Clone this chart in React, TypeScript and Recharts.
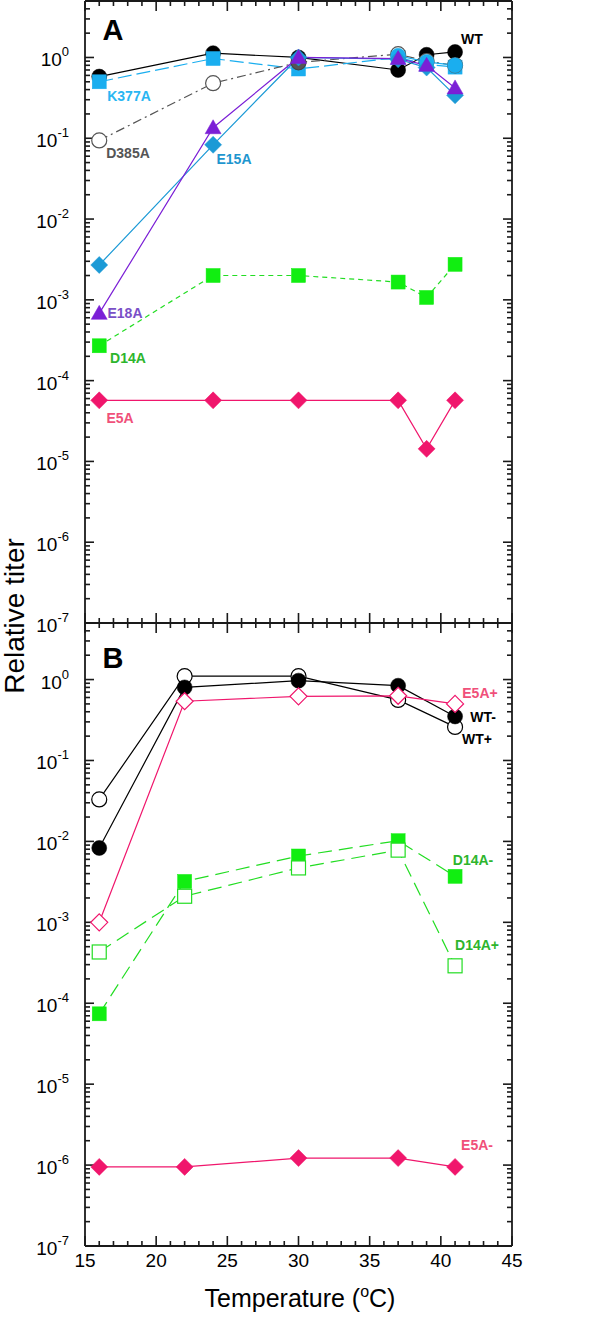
import React from 'react';
import { LineChart, Line, XAxis, YAxis, ReferenceLine } from 'recharts';

const tempsA = [16, 24, 30, 37, 39, 41];
const wtA = [0.58, 1.13, 1.0, 0.7, 1.08, 1.17];
const k377aA = [0.5, 0.97, 0.72, 1.0, 0.82, 0.76];
const k377aCircA = [null, null, null, 1.05, 0.88, 0.8];
const d385aA = [0.094, 0.48, 0.87, 1.1, 0.9, 0.8];
const e15aA = [0.0027, 0.083, 1.0, 0.95, 0.75, 0.34];
const e18aA = [0.00068, 0.135, 1.0, 0.97, 0.8, 0.42];
const d14aA = [0.00027, 0.002, 0.002, 0.00166, 0.00107, 0.00275];
const e5aA = [5.7e-5, 5.7e-5, 5.7e-5, 5.7e-5, 1.43e-5, 5.7e-5];

const tempsB = [16, 22, 30, 37, 41];
const wtPlusB = [0.033, 1.1, 1.1, 0.56, 0.26];
const wtMinusB = [0.0083, 0.8, 0.97, 0.84, 0.35];
const e5aPlusB = [0.001, 0.54, 0.62, 0.63, 0.5];
const d14aMinusB = [7.4e-5, 0.0032, 0.0066, 0.0102, 0.0037];
const d14aPlusB = [4.3e-4, 0.0021, 0.0047, 0.0078, 2.9e-4];
const e5aMinusB = [9.5e-7, 9.5e-7, 1.22e-6, 1.22e-6, 9.5e-7];

const X_MIN = 15;
const X_MAX = 45;
const Y_MIN = 1e-7;
const Y_MAX = 5;

const xTicks = Array.from({ length: 31 }, (_, i) => 15 + i);
const xLabelTicks = [15, 20, 25, 30, 35, 40, 45];
const yDecades = [1e-7, 1e-6, 1e-5, 1e-4, 1e-3, 1e-2, 1e-1, 1];
const yTicks: number[] = [];
yDecades.forEach((d) => {
  for (let m = 1; m <= 9; m++) {
    if (d === 1 && m > 5) break;
    yTicks.push(m * d);
  }
});

const FONT = '"Liberation Sans", Arial, sans-serif';
const FRAME = '#1a1a1a';

// plot box size, only used to turn tick lengths (px) into data units
const PLOT_W = 427;
const PLOT_H = 622;
const PX_PER_X = PLOT_W / (X_MAX - X_MIN);
const PX_PER_DECADE = PLOT_H / Math.log10(Y_MAX / Y_MIN);

type Shape = 'circle' | 'square' | 'diamond' | 'triangle';

interface SeriesDef {
  key: string;
  values: (number | null)[];
  color: string;
  markerColor?: string;
  shape: Shape;
  filled: boolean;
  dash?: string;
}

const seriesA: SeriesDef[] = [
  { key: 'wt', values: wtA, color: '#000', shape: 'circle', filled: true },
  { key: 'k377a', values: k377aA, color: '#1AAEEF', shape: 'square', filled: true, dash: '14 5' },
  { key: 'd385a', values: d385aA, color: '#555', shape: 'circle', filled: false, dash: '9 4 2 4' },
  { key: 'k377aCirc', values: k377aCircA, color: '#1AAEEF', shape: 'circle', filled: true },
  { key: 'e15a', values: e15aA, color: '#1C9AD6', shape: 'diamond', filled: true },
  { key: 'e18a', values: e18aA, color: '#7B1FD6', shape: 'triangle', filled: true },
  { key: 'd14a', values: d14aA, color: '#22DD22', markerColor: '#11EE11', shape: 'square', filled: true, dash: '5 4' },
  { key: 'e5a', values: e5aA, color: '#F0166C', shape: 'diamond', filled: true },
];

const seriesB: SeriesDef[] = [
  { key: 'wtPlus', values: wtPlusB, color: '#000', shape: 'circle', filled: false },
  { key: 'wtMinus', values: wtMinusB, color: '#000', shape: 'circle', filled: true },
  { key: 'e5aPlus', values: e5aPlusB, color: '#F0166C', shape: 'diamond', filled: false },
  { key: 'd14aMinus', values: d14aMinusB, color: '#22DD22', markerColor: '#11EE11', shape: 'square', filled: true, dash: '14 7' },
  { key: 'd14aPlus', values: d14aPlusB, color: '#22DD22', shape: 'square', filled: false, dash: '14 7' },
  { key: 'e5aMinus', values: e5aMinusB, color: '#F0166C', shape: 'diamond', filled: true },
];

function buildRows(temps: number[], series: SeriesDef[]) {
  return temps.map((t, i) => {
    const row: Record<string, number | null> = { t };
    series.forEach((s) => {
      row[s.key] = s.values[i];
    });
    return row;
  });
}

function Marker({ cx, cy, shape, color, filled, grey }: any) {
  if (cx == null || cy == null || isNaN(cy)) return <g />;
  const fill = grey ? '#555' : filled ? color : '#fff';
  const stroke = grey ? '#444' : color;
  const sw = filled ? 0.5 : 1.2;
  if (shape === 'circle') return <circle cx={cx} cy={cy} r={7.5} fill={fill} stroke={stroke} strokeWidth={sw} />;
  if (shape === 'square') return <rect x={cx - 7} y={cy - 7} width={14} height={14} fill={fill} stroke={stroke} strokeWidth={sw} />;
  if (shape === 'diamond') {
    const d = 8.5;
    return <polygon points={`${cx},${cy - d} ${cx + d},${cy} ${cx},${cy + d} ${cx - d},${cy}`} fill={fill} stroke={stroke} strokeWidth={sw} />;
  }
  return <polygon points={`${cx},${cy - 8} ${cx + 8},${cy + 6} ${cx - 8},${cy + 6}`} fill={fill} stroke={stroke} strokeWidth={sw} />;
}

function isMajor(v: number) {
  const l = Math.log10(v);
  return Math.abs(l - Math.round(l)) < 1e-6;
}

const YLabel = (props: any) => {
  const { x, y, payload } = props;
  return (
    <text x={x - 16} y={y + 9} textAnchor="end" fontFamily={FONT} fontSize={19} fill="#000" stroke="none">
      10
      <tspan dy={-10} fontSize={13}>{String(Math.round(Math.log10(payload.value)))}</tspan>
    </text>
  );
};

const XLabel = (props: any) => {
  const { x, y, payload } = props;
  return (
    <text x={x} y={y + 21} textAnchor="middle" fontFamily={FONT} fontSize={19} fill="#000" stroke="none">
      {payload.value}
    </text>
  );
};

// inward tick marks on all four sides, placed through the chart scales
function tickSegments() {
  const out: { key: string; seg: { x: number; y: number }[] }[] = [];
  yTicks.forEach((v) => {
    const len = (isMajor(v) ? 9 : 5) / PX_PER_X;
    out.push({ key: `yl${v}`, seg: [{ x: X_MIN, y: v }, { x: X_MIN + len, y: v }] });
    out.push({ key: `yr${v}`, seg: [{ x: X_MAX - len, y: v }, { x: X_MAX, y: v }] });
  });
  xTicks.forEach((v) => {
    const f = Math.pow(10, (v % 5 === 0 ? 10 : 5) / PX_PER_DECADE);
    out.push({ key: `xb${v}`, seg: [{ x: v, y: Y_MIN }, { x: v, y: Y_MIN * f }] });
    out.push({ key: `xt${v}`, seg: [{ x: v, y: Y_MAX / f }, { x: v, y: Y_MAX }] });
  });
  return out;
}
const TICKS = tickSegments();

function Panel({ temps, series, height, bottomAxis, bottomMargin, labels }: any) {
  const data = buildRows(temps, series);
  return (
    <LineChart width={600} height={height} data={data} margin={{ top: 1, right: 88, bottom: bottomMargin, left: 0 }}>
      <XAxis
        xAxisId="b"
        dataKey="t"
        type="number"
        domain={[X_MIN, X_MAX]}
        ticks={xLabelTicks}
        interval={0}
        height={bottomAxis}
        tickSize={0}
        tickMargin={0}
        tickLine={false}
        axisLine={false}
        tick={labels ? XLabel : false}
      />
      <YAxis
        yAxisId="l"
        type="number"
        scale="log"
        domain={[Y_MIN, Y_MAX]}
        allowDataOverflow
        ticks={yDecades}
        interval={0}
        width={85}
        tickSize={0}
        tickMargin={0}
        tickLine={false}
        axisLine={false}
        tick={YLabel}
      />
      {TICKS.map((t) => (
        <ReferenceLine key={t.key} xAxisId="b" yAxisId="l" segment={t.seg} stroke={FRAME} strokeWidth={1.6} ifOverflow="visible" />
      ))}
      <ReferenceLine xAxisId="b" yAxisId="l" x={X_MIN} stroke={FRAME} strokeWidth={1.8} ifOverflow="visible" />
      <ReferenceLine xAxisId="b" yAxisId="l" x={X_MAX} stroke={FRAME} strokeWidth={1.8} ifOverflow="visible" />
      <ReferenceLine xAxisId="b" yAxisId="l" y={Y_MIN} stroke={FRAME} strokeWidth={1.8} ifOverflow="visible" />
      <ReferenceLine xAxisId="b" yAxisId="l" y={Y_MAX} stroke={FRAME} strokeWidth={1.8} ifOverflow="visible" />
      {series.map((s: SeriesDef) => (
        <Line
          key={s.key}
          xAxisId="b"
          yAxisId="l"
          dataKey={s.key}
          type="linear"
          stroke={s.color}
          strokeWidth={1.2}
          strokeDasharray={s.dash}
          isAnimationActive={false}
          connectNulls={false}
          dot={(p: any) => (
            <Marker
              key={`${s.key}-${p.index}`}
              cx={p.cx}
              cy={p.cy}
              shape={s.shape}
              color={s.markerColor ?? s.color}
              filled={s.filled}
              grey={s.key === 'd385a' && p.payload && p.payload.t === 30}
            />
          )}
          activeDot={false}
        />
      ))}
    </LineChart>
  );
}

const lbl = { fontFamily: FONT, fontWeight: 700, fontSize: 14 } as const;

export default function App() {
  return (
    <div style={{ position: 'absolute', left: 0, top: 0, width: 600, height: 1317, background: '#fff' }}>
      <div style={{ position: 'absolute', left: 0, top: 0 }}>
        <Panel temps={tempsA} series={seriesA} height={641} bottomAxis={0} bottomMargin={18} labels={false} />
      </div>
      <div style={{ position: 'absolute', left: 0, top: 622 }}>
        <Panel temps={tempsB} series={seriesB} height={695} bottomAxis={71} bottomMargin={0} labels={true} />
      </div>
      <svg width={600} height={1317} style={{ position: 'absolute', left: 0, top: 0, pointerEvents: 'none' }}>
        <text x={113} y={40} textAnchor="middle" fontFamily={FONT} fontWeight={700} fontSize={29}>A</text>
        <text x={113} y={668} textAnchor="middle" fontFamily={FONT} fontWeight={700} fontSize={29}>B</text>
        <text x={472} y={44} textAnchor="middle" {...lbl} fill="#000">WT</text>
        <text x={129} y={101} textAnchor="middle" {...lbl} fill="#29B6F2">K377A</text>
        <text x={128} y={158} textAnchor="middle" {...lbl} fill="#555">D385A</text>
        <text x={234} y={164} textAnchor="middle" {...lbl} fill="#1E96CF">E15A</text>
        <text x={125} y={318} textAnchor="middle" {...lbl} fill="#7A4FC7">E18A</text>
        <text x={128} y={363} textAnchor="middle" {...lbl} fill="#2DB52D">D14A</text>
        <text x={120} y={423} textAnchor="middle" {...lbl} fill="#F0507A">E5A</text>
        <text x={480} y={698} textAnchor="middle" {...lbl} fill="#F0507A">E5A+</text>
        <text x={483} y={722} textAnchor="middle" {...lbl} fill="#000">WT-</text>
        <text x={477} y={744} textAnchor="middle" {...lbl} fill="#000">WT+</text>
        <text x={473} y={865} textAnchor="middle" {...lbl} fill="#2DB52D">D14A-</text>
        <text x={477} y={950} textAnchor="middle" {...lbl} fill="#2DB52D">D14A+</text>
        <text x={477} y={1150} textAnchor="middle" {...lbl} fill="#F0507A">E5A-</text>
        <text x={24} y={616} textAnchor="middle" fontFamily={FONT} fontSize={28} transform="rotate(-90 24 616)">
          Relative titer
        </text>
        <text x={300} y={1307} textAnchor="middle" fontFamily={FONT} fontSize={25}>
          Temperature (<tspan dy={-10} fontSize={16}>o</tspan><tspan dy={10}>C)</tspan>
        </text>
      </svg>
    </div>
  );
}
